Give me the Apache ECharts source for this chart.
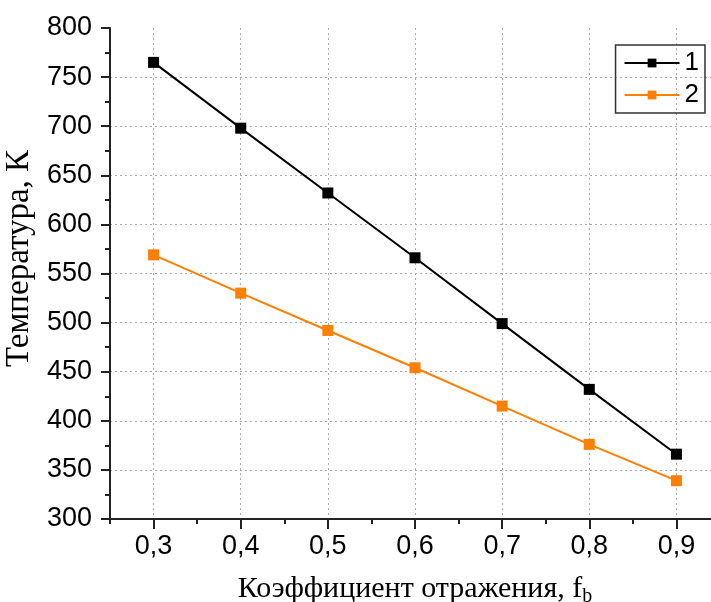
<!DOCTYPE html>
<html><head><meta charset="utf-8">
<script src="https://cdn.jsdelivr.net/npm/echarts@6/dist/echarts.min.js"></script>
<style>html,body{margin:0;padding:0;background:#fff}#c{width:711px;height:602px}</style>
</head><body><div id="c"></div>
<script>
const xValues = [0.3, 0.4, 0.5, 0.6, 0.7, 0.8, 0.9];
const series1 = [765, 698, 632, 566, 499, 432, 366];
const series2 = [569, 530, 492, 454, 415, 376, 339];
const xTicks = [0.3, 0.4, 0.5, 0.6, 0.7, 0.8, 0.9];
const yGridTicks = [350, 400, 450, 500, 550, 600, 650, 700, 750];
const seriesNames = ['1', '2'];

const chart = echarts.init(document.getElementById('c'), null, {renderer: 'canvas'});
const sans = 'Liberation Sans, Arial, sans-serif';
const serif = 'Liberation Serif, Times New Roman, serif';
const gridLine = {show: true, lineStyle: {color: '#aaa', type: [2, 3], width: 1}};

chart.setOption({
  animation: false,
  grid: {left: 110, top: 28, width: 610, height: 491, outerBoundsMode: 'none', containLabel: false},
  legend: {
    orient: 'vertical', right: 6, top: 45,
    borderColor: '#333', borderWidth: 1.5, padding: [5, 6, 5, 8],
    itemWidth: 55, itemHeight: 11, itemGap: 6,
    textStyle: {fontSize: 26, fontFamily: sans, color: '#000'},
    data: seriesNames
  },
  xAxis: [{
    type: 'value', min: 0.25, max: 0.95, interval: 0.05,
    name: '{a|Коэффициент отражения, f}{b|b}',
    nameLocation: 'middle', nameGap: 52,
    nameTextStyle: {
      rich: {
        a: {fontSize: 30, fontFamily: serif, color: '#000'},
        b: {fontSize: 20, fontFamily: serif, color: '#000', padding: [16, 0, 0, 0]}
      }
    },
    axisLine: {show: true, onZero: false, lineStyle: {color: '#222', width: 2}},
    axisTick: {show: true, customValues: xTicks, length: 10, lineStyle: {color: '#222', width: 2}},
    axisLabel: {customValues: xTicks, margin: 14, fontSize: 27, fontFamily: sans, color: '#000',
      formatter: v => v.toFixed(1).replace('.', ',')},
    splitLine: gridLine
  }, {
    type: 'value', min: 0.25, max: 0.95, interval: 0.05, position: 'bottom',
    axisLine: {show: false},
    axisTick: {show: true, length: 5, lineStyle: {color: '#222', width: 2}},
    axisLabel: {show: false},
    splitLine: {show: false}
  }],
  yAxis: [{
    type: 'value', min: 300, max: 800, interval: 50,
    name: 'Температура, К', nameLocation: 'middle', nameGap: 70,
    nameTextStyle: {fontSize: 33, fontFamily: serif, color: '#000', padding: [0, 0, 0, 30]},
    axisLine: {show: true, onZero: false, lineStyle: {color: '#222', width: 2}},
    axisTick: {show: true, length: 9, lineStyle: {color: '#222', width: 2}},
    minorTick: {show: true, splitNumber: 2, length: 5, lineStyle: {color: '#222', width: 2}},
    axisLabel: {margin: 18, fontSize: 27, fontFamily: sans, color: '#000'},
    splitLine: {show: false}
  }, {
    type: 'value', min: 300, max: 800, interval: 50, position: 'left',
    axisLine: {show: false},
    axisTick: {show: false, customValues: yGridTicks},
    axisLabel: {show: false},
    splitLine: gridLine
  }],
  series: [{
    name: seriesNames[0], type: 'line', xAxisIndex: 0, yAxisIndex: 0,
    data: xValues.map((x, i) => [x, series1[i]]),
    symbol: 'rect', symbolSize: 11, showAllSymbol: true,
    lineStyle: {color: '#000', width: 2}, itemStyle: {color: '#000'}
  }, {
    name: seriesNames[1], type: 'line', xAxisIndex: 0, yAxisIndex: 0,
    data: xValues.map((x, i) => [x, series2[i]]),
    symbol: 'rect', symbolSize: 11, showAllSymbol: true,
    lineStyle: {color: '#ff7f00', width: 2}, itemStyle: {color: '#ff7f00'}
  }]
});
</script></body></html>
